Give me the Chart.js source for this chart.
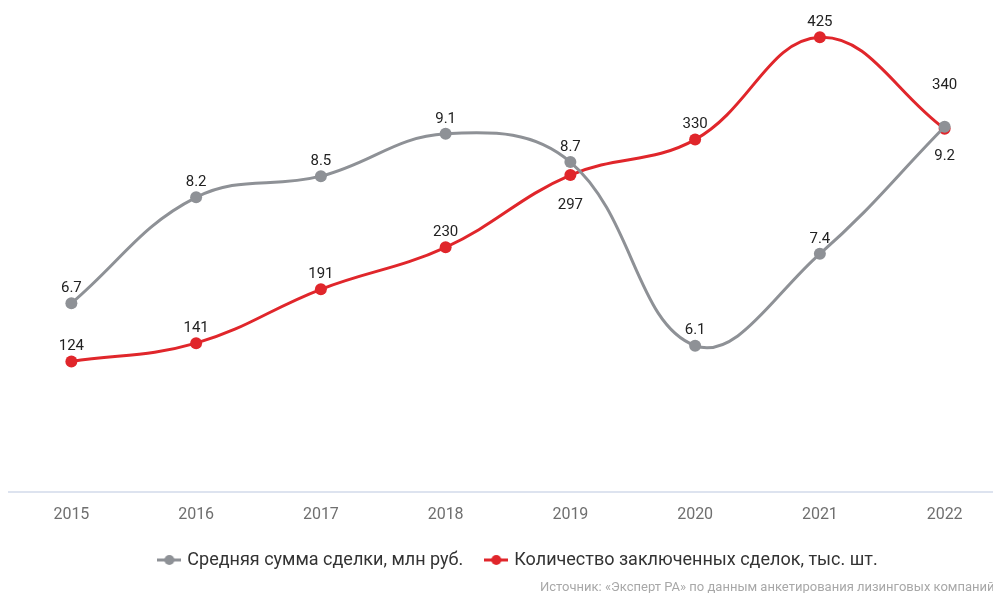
<!DOCTYPE html>
<html>
<head>
<meta charset="utf-8">
<script src="https://cdn.jsdelivr.net/npm/chart.js"></script>
<style>
  html, body { margin: 0; padding: 0; background: #fff; overflow: hidden; }
  #wrap { position: relative; width: 1045px; height: 593px; }
  #source {
    position: absolute; left: 540px; top: 579px;
    font: 13px Roboto, sans-serif; color: #a8a8a8; white-space: nowrap;
  }
</style>
</head>
<body>
<div id="wrap">
  <canvas id="grafico" width="1045" height="593"></canvas>
  <div id="source">Источник: «Эксперт РА» по данным анкетирования лизинговых компаний</div>
</div>
<script>
const anos = ['2015', '2016', '2017', '2018', '2019', '2020', '2021', '2022'];
const sumaMedia = [6.7, 8.2, 8.5, 9.1, 8.7, 6.1, 7.4, 9.2];
const qtdSdelok = [124, 141, 191, 230, 297, 330, 425, 340];
const nomeSuma = 'Средняя сумма сделки, млн руб.';
const nomeQtd = 'Количество заключенных сделок, тыс. шт.';

// onde fica o rótulo de cada ponto
const rotuloSuma = ['up', 'up', 'up', 'up', 'up', 'up', 'up', 'down'];
const rotuloQtd = ['up', 'up', 'up', 'up', 'down', 'up', 'up', 'high'];

const cinza = '#8e9196';
const vermelho = '#e0262b';

// marcador da legenda: linha com bolinha
function marcador(cor) {
  const c = document.createElement('canvas');
  c.width = 24; c.height = 12;
  const g = c.getContext('2d');
  g.strokeStyle = cor; g.lineWidth = 3;
  g.beginPath(); g.moveTo(0, 6); g.lineTo(24, 6); g.stroke();
  g.fillStyle = cor;
  g.beginPath(); g.arc(12, 6, 5, 0, Math.PI * 2); g.fill();
  return c;
}

const rotulos = {
  id: 'rotulos',
  afterLayout(chart) {
    // ajusta a posição da legenda
    chart.legend.left += 11;
    chart.legend.right += 11;
    chart.legend.top -= 12;
    chart.legend.bottom -= 12;
  },
  afterDatasetsDraw(chart) {
    const ctx = chart.ctx;
    ctx.save();
    ctx.font = '15px Roboto, sans-serif';
    ctx.fillStyle = '#222';
    ctx.textAlign = 'center';
    ctx.textBaseline = 'middle';
    chart.data.datasets.forEach((ds, i) => {
      const meta = chart.getDatasetMeta(i);
      const pos = i === 0 ? rotuloSuma : rotuloQtd;
      meta.data.forEach((pt, j) => {
        let dy = -15;
        if (pos[j] === 'down') dy = 30;
        if (pos[j] === 'high') dy = -44;
        ctx.fillText(String(ds.data[j]), pt.x, pt.y + dy);
      });
    });
    ctx.restore();
  }
};

new Chart(document.getElementById('grafico').getContext('2d'), {
  type: 'line',
  data: {
    labels: anos,
    datasets: [{
      label: nomeSuma,
      data: sumaMedia,
      yAxisID: 'y',
      borderColor: cinza,
      backgroundColor: cinza,
      borderWidth: 3,
      pointRadius: 6,
      pointHoverRadius: 6,
      pointBorderWidth: 0,
      tension: 0.4
    }, {
      label: nomeQtd,
      data: qtdSdelok,
      yAxisID: 'y2',
      borderColor: vermelho,
      backgroundColor: vermelho,
      borderWidth: 3,
      pointRadius: 6,
      pointHoverRadius: 6,
      pointBorderWidth: 0,
      tension: 0.4
    }]
  },
  options: {
    responsive: false,
    animation: false,
    layout: { padding: { left: 9, right: 38, top: 0, bottom: 2 } },
    scales: {
      x: {
        offset: true,
        grid: { display: false, drawTicks: false },
        border: { display: true, color: '#dde3ef', width: 2 },
        ticks: { color: '#6f6f6f', font: { family: 'Roboto', size: 16 }, padding: 14 }
      },
      y: { display: false, min: 4.03, max: 10.91 },
      y2: { display: false, min: 3, max: 454 }
    },
    plugins: {
      tooltip: { enabled: false },
      legend: {
        position: 'bottom',
        labels: {
          color: '#333',
          font: { family: 'Roboto', size: 18 },
          padding: 24,
          usePointStyle: true,
          generateLabels(chart) {
            return chart.data.datasets.map((ds, i) => ({
              text: ds.label,
              fontColor: '#333',
              pointStyle: marcador(ds.borderColor),
              datasetIndex: i,
              lineWidth: 0,
              strokeStyle: ds.borderColor,
              fillStyle: ds.borderColor
            }));
          }
        }
      }
    }
  },
  plugins: [rotulos]
});
</script>
</body>
</html>
